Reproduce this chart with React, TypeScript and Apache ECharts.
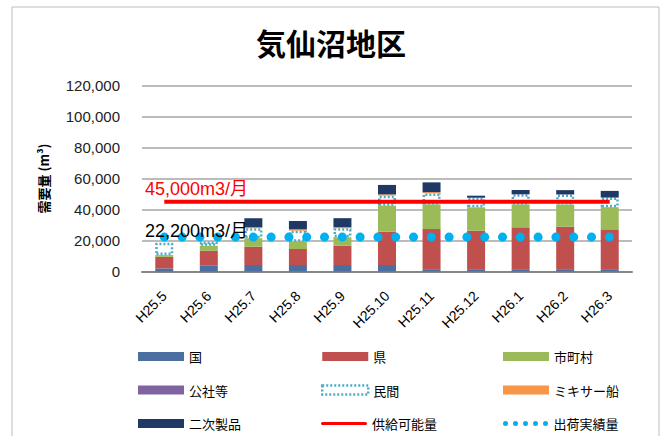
import React, { useEffect, useRef } from "react";
import * as echarts from "echarts";

const categories = ["H25.5", "H25.6", "H25.7", "H25.8", "H25.9", "H25.10", "H25.11", "H25.12", "H26.1", "H26.2", "H26.3"];
const kuni = [2000, 3700, 4200, 4200, 4200, 4200, 1500, 1500, 1500, 1500, 1500];
const ken = [7500, 9700, 11800, 10300, 12500, 21500, 25900, 24800, 27000, 27400, 25700];
const shichoson = [1100, 3200, 5400, 4700, 5400, 16800, 15900, 15100, 14800, 14300, 14300];
const kosha = [0, 0, 0, 0, 0, 0, 0, 0, 0, 0, 0];
const minkan = [8000, 2600, 6500, 7100, 5800, 6450, 7100, 6200, 6500, 6500, 6200];
const mixer = [0, 0, 700, 900, 700, 800, 800, 0, 0, 0, 0];
const niji = [0, 0, 5800, 5400, 5800, 6100, 6300, 1300, 2800, 2800, 4300];
const supply = [45000, 45000, 45000, 45000, 45000, 45000, 45000, 45000, 45000, 45000, 45000];
const shipped = [22200, 22200, 22200, 22200, 22200, 22200, 22200, 22200, 22200, 22200, 22200];
const yTicks = { min: 0, max: 120000, interval: 20000 };

const NUM = "'Liberation Sans', 'Noto Sans CJK JP', sans-serif";
const CJK = "'Noto Sans CJK JP', sans-serif";

const dotsIcon =
  "path://" +
  [0, 10, 20, 30, 40]
    .map((x) => `M${x},2.5 a2.5,2.5 0 1,0 5,0 a2.5,2.5 0 1,0 -5,0 Z`)
    .join(" ");
const lineIcon = "path://M1.5,0 L44.5,0 A1.5,1.5 0 0,1 44.5,3 L1.5,3 A1.5,1.5 0 0,1 1.5,0 Z";

export default function App() {
  const ref = useRef<HTMLDivElement>(null);
  useEffect(() => {
    const chart = echarts.init(ref.current!, null, { renderer: "svg" });
    const bar = (name: string, data: number[], color: string, extra: any = {}) => ({
      name,
      type: "bar",
      stack: "total",
      data,
      barWidth: 18,
      itemStyle: { color, ...extra },
    });
    const minkanStyle = { borderColor: "#4BACC6", borderWidth: 2.5, borderType: [2, 2] };
    const legendBase = {
      orient: "vertical",
      top: 345,
      itemWidth: 46,
      itemHeight: 9,
      itemGap: 20.5,
      selectedMode: false,
      icon: "rect",
      textStyle: { fontSize: 13, color: "#000", fontFamily: CJK },
    };
    chart.setOption({
      animation: false,
      backgroundColor: "#fff",
      title: {
        text: "気仙沼地区",
        left: "center",
        top: 22,
        textStyle: { fontSize: 30, fontWeight: "bold", color: "#000", fontFamily: CJK },
      },
      grid: { left: 142, right: 30, top: 85.5, bottom: 164.5 },
      xAxis: {
        type: "category",
        data: categories,
        axisLine: { lineStyle: { color: "#868686", width: 2 } },
        axisTick: { show: false },
        axisLabel: { rotate: 45, margin: 22, fontSize: 14, color: "#000", fontFamily: NUM },
      },
      yAxis: {
        type: "value",
        min: yTicks.min,
        max: yTicks.max,
        interval: yTicks.interval,
        name: "需要量 (m³)",
        nameLocation: "middle",
        nameRotate: 90,
        nameGap: 92,
        nameTextStyle: { fontSize: 13, fontWeight: "bold", color: "#000", fontFamily: CJK },
        axisLine: { show: false },
        axisTick: { show: false },
        axisLabel: {
          margin: 22,
          fontSize: 15,
          color: "#222",
          fontFamily: NUM,
          formatter: (v: number) => v.toLocaleString("en-US"),
        },
        splitLine: { lineStyle: { color: "#A6A6A6", width: 1.5 } },
      },
      legend: [
        { ...legendBase, left: 133, data: ["国", "公社等", "二次製品"] },
        {
          ...legendBase,
          left: 316,
          data: ["県", { name: "民間", itemStyle: { color: "#FFFFFF", ...minkanStyle } }],
        },
        { ...legendBase, left: 498, data: ["市町村", "ミキサー船"] },
        {
          ...legendBase,
          top: 412,
          left: 316,
          itemHeight: 3,
          data: [{ name: "供給可能量", icon: lineIcon }],
        },
        {
          ...legendBase,
          top: 412,
          left: 498,
          itemHeight: 5,
          data: [{ name: "出荷実績量", icon: dotsIcon }],
        },
      ],
      graphic: [
        {
          type: "rect",
          shape: { x: 12, y: 7, width: 647, height: 440 },
          style: { fill: "none", stroke: "#BDBDBD", lineWidth: 1 },
          silent: true,
        },
        {
          type: "text",
          left: 145,
          top: 180,
          style: { text: "45,000m3/月", fill: "#FF0000", fontSize: 18, fontFamily: NUM },
          z: 100,
        },
        {
          type: "text",
          left: 145,
          top: 222,
          style: { text: "22,200m3/月", fill: "#000", fontSize: 18, fontFamily: NUM },
          z: 100,
        },
      ],
      series: [
        bar("国", kuni, "#4A6FA0"),
        bar("県", ken, "#C0504D"),
        bar("市町村", shichoson, "#9BBB59"),
        bar("公社等", kosha, "#8064A2"),
        bar("民間", minkan, "#FFFFFF", minkanStyle),
        bar("ミキサー船", mixer, "#F79646"),
        bar("二次製品", niji, "#1F3864"),
        {
          name: "供給可能量",
          type: "line",
          data: supply,
          symbol: "none",
          color: "#FF0000",
          lineStyle: { color: "#FF0000", width: 4 },
          z: 5,
        },
        {
          name: "出荷実績量",
          type: "line",
          data: shipped,
          symbol: "none",
          color: "#00B0F0",
          lineStyle: { color: "#00B0F0", width: 9, type: [0.1, 17.7], cap: "round" },
          z: 6,
        },
      ],
    });
    return () => chart.dispose();
  }, []);
  return (
    <div
      ref={ref}
      style={{ position: "fixed", left: 0, top: 0, width: 662, height: 436 }}
    />
  );
}
